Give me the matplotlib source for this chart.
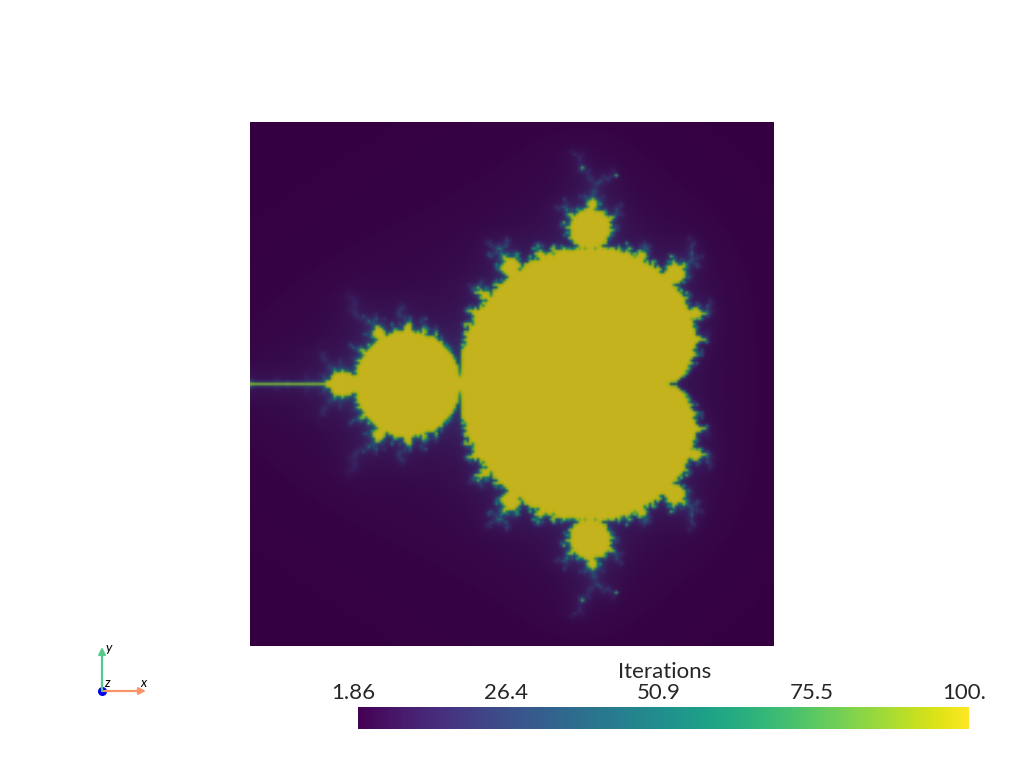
import numpy as np
import matplotlib
matplotlib.use("Agg")
import matplotlib.pyplot as plt
from matplotlib.colors import ListedColormap, Normalize
from matplotlib.transforms import blended_transform_factory

# Values
x_range = [-1.75, 0.75]
y_range = [-1.25, 1.25]
grid_size = 201
max_iterations = 100
escape_radius = 2.5
smoothing_sigma = 0.48
color_range = [1.86, 100.0]
tick_values = [1.86, 26.4, 50.9, 75.5, 100.0]
tick_labels = ["1.86", "26.4", "50.9", "75.5", "100."]
colorbar_title = "Iterations"
lighting = 0.775

plt.rcParams["font.family"] = ["Lato", "DejaVu Sans"]


def escape_counts():
    re = np.linspace(*x_range, grid_size)
    im = np.linspace(*y_range, grid_size)
    c = re[None, :] + 1j * im[:, None]
    z = np.zeros_like(c)
    counts = np.full(c.shape, float(max_iterations))
    alive = np.ones(c.shape, bool)
    for n in range(1, max_iterations + 1):
        z[alive] = z[alive] ** 2 + c[alive]
        escaped = alive & (np.abs(z) > escape_radius)
        counts[escaped] = n - np.log2(np.log(np.abs(z[escaped])))
        alive &= ~escaped
    return counts


def smooth(field, sigma):
    offsets = np.arange(-3, 4)
    kernel = np.exp(-offsets ** 2 / (2 * sigma ** 2))
    kernel /= kernel.sum()
    padded = np.pad(field, 3, mode="edge")
    for axis in (0, 1):
        padded = np.apply_along_axis(lambda m: np.convolve(m, kernel, mode="same"), axis, padded)
    return padded[3:-3, 3:-3]


W, H = 1024, 768
fig = plt.figure(figsize=(W / 100, H / 100), dpi=100, facecolor="white")


def px_axes(x0, y0, x1, y1):
    return fig.add_axes([x0 / W, 1 - y1 / H, (x1 - x0) / W, (y1 - y0) / H])


viridis = matplotlib.colormaps["viridis"]
lit = viridis(np.linspace(0, 1, 256))
lit[:, :3] *= lighting
lit_cmap = ListedColormap(lit)
norm = Normalize(*color_range)

ax = px_axes(250, 122, 774, 646)
ax.imshow(smooth(escape_counts(), smoothing_sigma), origin="lower", extent=[*x_range, *y_range],
          cmap=lit_cmap, norm=norm, interpolation="bilinear", aspect="equal")
ax.axis("off")

cax = px_axes(358, 707, 969, 729)
gradient = np.linspace(*color_range, 256)[None, :]
cax.imshow(gradient, extent=[*color_range, 0, 1], cmap=viridis, norm=norm,
           aspect="auto", interpolation="nearest")
cax.axis("off")
trans = blended_transform_factory(cax.transData, cax.transAxes)
for v, s in zip(tick_values, tick_labels):
    cax.annotate(s, xy=(v, 1), xycoords=trans, xytext=(-3.6, 3), textcoords="offset points",
                 ha="center", va="bottom", fontsize=16, color="#262626", annotation_clip=False)
fig.text(665 / W, 1 - 672.5 / H, colorbar_title, ha="center", va="center", fontsize=16, color="#262626")

# orientation marker
ov = fig.add_axes([0, 0, 1, 1], facecolor="none")
ov.set_xlim(0, W)
ov.set_ylim(H, 0)
ov.axis("off")
ov.annotate("", xy=(146, 691), xytext=(102, 691),
            arrowprops=dict(arrowstyle="-|>", color="#f8936a", lw=1.6, mutation_scale=10, shrinkA=0, shrinkB=0))
ov.annotate("", xy=(102, 647), xytext=(102, 691),
            arrowprops=dict(arrowstyle="-|>", color="#55c98a", lw=1.6, mutation_scale=10, shrinkA=0, shrinkB=0))
ov.plot([102], [691], "o", color="#0000f0", ms=6.5, mew=0)
for s, x, y in [("x", 143, 683), ("y", 109, 648), ("z", 107, 683)]:
    ov.text(x, y, s, fontsize=9.5, style="italic", color="black", ha="center", va="center")

fig.savefig("out.png", dpi=100, facecolor="white")
